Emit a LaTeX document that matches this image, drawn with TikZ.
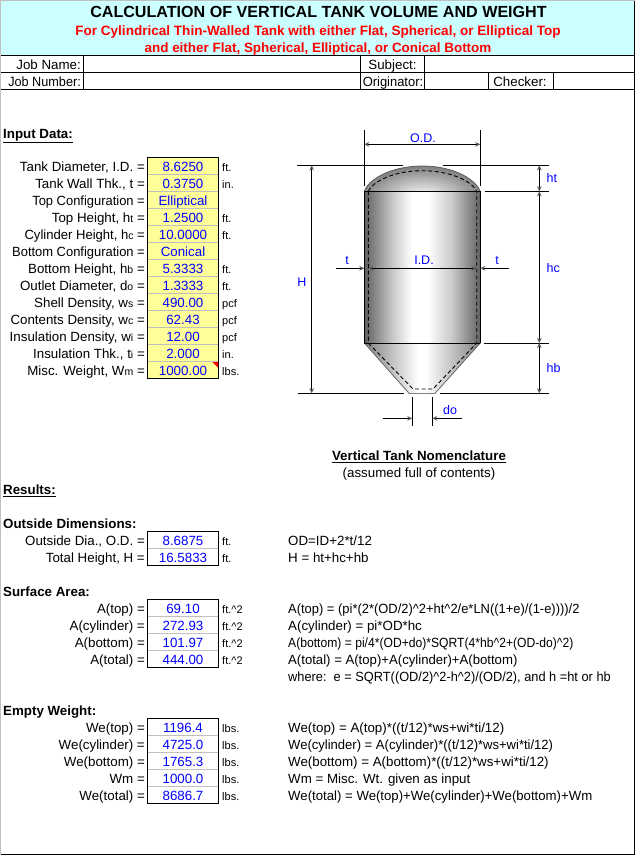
\documentclass[tikz,border=0pt]{standalone}
\usepackage{fontspec}
\usepackage{graphicx}
\setmainfont{Liberation Sans}
\usetikzlibrary{arrows.meta}
\definecolor{banner}{HTML}{CCFFFF}
\definecolor{inputfill}{HTML}{FFFF99}
\definecolor{valblue}{HTML}{0000FF}
\definecolor{gridgray}{HTML}{C0C0C0}
\definecolor{titlered}{HTML}{FF0000}
\definecolor{tipgray}{HTML}{555555}
\newcommand\fs[1]{\fontsize{#1}{#1}\selectfont}
\newcommand\sbs[1]{{\fs{10.5}#1}}
\newcommand\crt{\textasciicircum{}}
\newcommand\nar[2]{\scalebox{#1}[1]{#2}}
\tikzset{
  txt/.style={inner sep=0pt,text height=11.4pt,text depth=1pt,font=\fs{13.33}},
  lbl/.style={txt,anchor=east},
  val/.style={txt,anchor=center,text=valblue},
  unit/.style={txt,anchor=west,font=\fs{11}},
  frm/.style={txt,anchor=west},
  head/.style={txt,anchor=west,font=\fs{13.33}\bfseries},
  dimtxt/.style={txt,anchor=center,text=valblue,font=\fs{12.5}},
  hdr/.style={line width=0.9pt,black},
  dimline/.style={line width=0.8pt,black},
  dimarrow/.style={line width=0.8pt,black,{Stealth[length=5pt,width=4.5pt,color=tipgray,fill=tipgray]}-{Stealth[length=5pt,width=4.5pt,color=tipgray,fill=tipgray]}},
  dimto/.style={line width=0.8pt,black,-{Stealth[length=5pt,width=4.5pt,color=tipgray,fill=tipgray]}},
  hidden/.style={line width=0.9pt,black,dash pattern=on 4pt off 2.6pt},
}
\newcommand\resrow[5]{%
  \node[lbl] (#1l) at (145,#2) {#3};
  \node[val] (#1v) at (183,#2) {#4};
  \node[unit] (#1u) at (222,#2) {#5};}
\newcommand\frmrow[3]{\node[frm] (#1) at (288,#2) {#3};}
\begin{document}
\begin{tikzpicture}[x=1pt,y=-1pt]
\useasboundingbox (0,0) rectangle (635,855);
\fill[white] (0,0) rectangle (635,855);
% frame and banner
\fill[banner] (1,1) rectangle (634,55);
\fill[gridgray] (0,0) rectangle (1.3,855);
\fill[gridgray] (0,0) rectangle (635,1);
\draw[hdr] (634.4,1) -- (634.4,855);
\draw[hdr] (1,854.2) -- (635,854.2);
\node[txt,anchor=center,font=\fs{16.1}\bfseries] (title) at (318.5,12) {CALCULATION OF VERTICAL TANK VOLUME AND WEIGHT};
\node[txt,anchor=center,font=\fs{13.55}\bfseries,text=titlered] (sub1) at (318,30) {For Cylindrical Thin-Walled Tank with either Flat, Spherical, or Elliptical Top};
\node[txt,anchor=center,font=\fs{13.45}\bfseries,text=titlered] (sub2) at (318,47.5) {and either Flat, Spherical, Elliptical, or Conical Bottom};
% job table
\draw[hdr] (1,55) -- (635,55) (1,72) -- (635,72) (1,89) -- (635,89);
\draw[hdr] (83,55) -- (83,89) (360,55) -- (360,89) (424,55) -- (424,89);
\draw[hdr] (488,72) -- (488,89) (553,72) -- (553,89);
\node[lbl] (jobname) at (81,64) {Job Name:};
\node[lbl] (jobnum) at (81,81) {\nar{0.95}{Job Number:}};
\node[txt] (subject) at (392.5,64) {Subject:};
\node[txt] (orig) at (393,81) {\nar{0.97}{Originator:}};
\node[txt] (check) at (520,81) {Checker:};
% input data
\node[head] (inhead) at (3,133) {\underline{Input Data:}};
\fill[inputfill] (147,157.5) rectangle (218.5,378);
\foreach \yy in {174.5,191.5,208.5,225.5,242.5,259.5,276.5,293.5,310.5,327.5,344.5,361.5}
  \draw[gridgray,line width=0.8pt] (147,\yy) -- (218.5,\yy);
\draw[line width=0.9pt] (147,157.5) rectangle (218.5,378);
\fill[titlered] (212.5,362) -- (218,362) -- (218,367.5) -- cycle;
\resrow{a}{166.3}{Tank Diameter, I.D. =}{8.6250}{ft.}
\resrow{b}{183.3}{Tank Wall Thk., t =}{0.3750}{in.}
\resrow{c}{200.3}{\nar{0.97}{Top Configuration =}}{Elliptical}{}
\resrow{d}{217.3}{Top Height, h\sbs{t} =}{1.2500}{ft.}
\resrow{e}{234.3}{\nar{0.98}{Cylinder Height, h\sbs{c} =}}{10.0000}{ft.}
\resrow{f}{251.3}{\nar{0.97}{Bottom Configuration =}}{Conical}{}
\resrow{g}{268.3}{Bottom Height, h\sbs{b} =}{5.3333}{ft.}
\resrow{h}{285.3}{Outlet Diameter, d\sbs{o} =}{1.3333}{ft.}
\resrow{i}{302.3}{Shell Density, w\sbs{s} =}{490.00}{pcf}
\resrow{j}{319.3}{Contents Density, w\sbs{c} =}{62.43}{pcf}
\resrow{k}{336.3}{Insulation Density, w\sbs{i} =}{12.00}{pcf}
\resrow{m}{353.3}{Insulation Thk., t\sbs{i} =}{2.000}{in.}
\resrow{n}{370.3}{Misc. Weight, W\sbs{m} =}{1000.00}{lbs.}
% tank body
\coordinate (cl) at (364.3,191.3);
\coordinate (cr) at (480.3,191.3);
\coordinate (bl) at (364.3,343);
\coordinate (br) at (480.3,343);
\coordinate (ol) at (409,393.3);
\coordinate (or) at (435,393.3);
\begin{scope}
  \clip (cl) .. controls (368,180) and (390,166) .. (422.3,166) .. controls (455,166) and (476,180) .. (cr) -- cycle;
  \fill[black!50] (360,160) rectangle (485,192);
  \shade[inner color=white,outer color=black!50] (422.3,197) ellipse [x radius=62,y radius=31];
\end{scope}
\draw[line width=0.7pt,black!65] (cl) .. controls (368,180) and (390,166) .. (422.3,166) .. controls (455,166) and (476,180) .. (cr);
\shade[left color=black!62,right color=black!22] (364.3,191.3) rectangle (392,343);
\shade[left color=black!22,right color=white] (391.8,191.3) rectangle (412,343);
\fill[white] (411.9,191.3) rectangle (428,343);
\shade[left color=white,right color=black!22] (427.9,191.3) rectangle (453,343);
\shade[left color=black!22,right color=black!62] (452.8,191.3) rectangle (480.3,343);
\begin{scope}
  \clip (bl) -- (br) -- (or) -- (ol) -- cycle;
  \shade[left color=black!50,right color=white] (364.3,343) rectangle (418,394);
  \fill[white] (417.9,343) rectangle (426,394);
  \shade[left color=white,right color=black!50] (425.9,343) rectangle (480.3,394);
\end{scope}
\draw[line width=0.8pt,black!60] (bl) -- (ol) (br) -- (or);
\draw[line width=1.6pt,black!50] (ol) -- (or);
\draw[line width=1pt] (cl) -- (bl) (cr) -- (br);
\draw[dimline] (cl) -- (cr) (bl) -- (br);
\draw[hidden] (368.3,191.3) .. controls (373,181) and (395,170.7) .. (422.3,170.7) .. controls (450,170.7) and (472,181) .. (476.7,191.3);
\draw[hidden] (368.3,191.3) -- (368.3,343) -- (413,389) -- (433,389) -- (476.7,343) -- (476.7,191.3);
% dimensions
\coordinate (odl) at (364.3,130); \coordinate (odlb) at (364.3,186);
\coordinate (odr) at (480.3,130); \coordinate (odrb) at (480.3,186);
\draw[dimline] (odl) -- (odlb) (odr) -- (odrb);
\draw[dimarrow] (364.3,144.3) -- (480.3,144.3);
\node[dimtxt] (odt) at (423,137) {O.D.};
\draw[dimline] (297,165.3) -- (403,165.3) (443,165.3) -- (549,165.3);
\draw[dimline] (485,191.3) -- (549,191.3) (484,343) -- (549,343);
\draw[dimline] (298,393.3) -- (404,393.3) (440,393.3) -- (549,393.3);
\draw[dimarrow] (311.7,165.3) -- (311.7,393.3);
\node[dimtxt] (ht) at (302,281) {H};
\draw[dimarrow] (539.3,165.3) -- (539.3,191.3);
\draw[dimarrow] (539.3,191.3) -- (539.3,343);
\draw[dimarrow] (539.3,343) -- (539.3,393.3);
\node[dimtxt,anchor=west] (htt) at (546.5,177) {ht};
\node[dimtxt,anchor=west] (hct) at (546.5,267) {hc};
\node[dimtxt,anchor=west] (hbt) at (546.5,367) {hb};
\draw[dimto] (336,268.3) -- (364.3,268.3);
\draw[dimto] (509,268.3) -- (480.3,268.3);
\draw[dimarrow] (368.3,268.3) -- (476.7,268.3);
\node[dimtxt] (tl) at (347,259) {t};
\node[dimtxt] (tr) at (497,259) {t};
\node[dimtxt] (idt) at (424,259) {I.D.};
\draw[dimline] (412.3,397) -- (412.3,426) (432.3,397) -- (432.3,426);
\draw[dimto] (383,418.3) -- (412.3,418.3);
\draw[dimto] (462,418.3) -- (432.3,418.3);
\node[dimtxt] (dot) at (450,409) {do};
\node[txt,anchor=center,font=\fs{13.33}\bfseries] (nom) at (419,455.5) {\underline{Vertical Tank Nomenclature}};
\node[txt,anchor=center] (full) at (419,472.5) {(assumed full of contents)};
% results
\node[head] (reshead) at (3,489.5) {\underline{Results:}};
\node[head] (odh) at (3,523.3) {Outside Dimensions:};
\draw[gridgray,line width=0.8pt] (147,548.5) -- (218.5,548.5);
\draw[line width=0.9pt] (147,531.7) rectangle (218.5,565);
\resrow{oa}{540.3}{Outside Dia., O.D. =}{8.6875}{ft.}
\resrow{ob}{557.3}{Total Height, H =}{16.5833}{ft.}
\frmrow{fa}{540.3}{OD=ID+2*t/12}
\frmrow{fb}{557.3}{H = ht+hc+hb}
\node[head] (sah) at (3,591.7) {Surface Area:};
\foreach \yy in {616.5,633.5,650.5}
  \draw[gridgray,line width=0.8pt] (147,\yy) -- (218.5,\yy);
\draw[line width=0.9pt] (147,599.3) rectangle (218.5,667.3);
\resrow{sa}{608.3}{A(top) =}{69.10}{ft.\crt 2}
\resrow{sb}{625.3}{A(cylinder) =}{272.93}{ft.\crt 2}
\resrow{sc}{642.3}{A(bottom) =}{101.97}{ft.\crt 2}
\resrow{sd}{659.3}{A(total) =}{444.00}{ft.\crt 2}
\frmrow{fc}{608.3}{\nar{0.97}{A(top) = (pi*(2*(OD/2)\crt 2+ht\crt 2/e*LN((1+e)/(1-e))))/2}}
\frmrow{fd}{625.3}{A(cylinder) = pi*OD*hc}
\frmrow{fe}{642.3}{\nar{0.91}{A(bottom) = pi/4*(OD+do)*SQRT(4*hb\crt 2+(OD-do)\crt 2)}}
\frmrow{ff}{659.3}{\nar{0.987}{A(total) = A(top)+A(cylinder)+A(bottom)}}
\frmrow{fg}{676.3}{\nar{0.96}{where:\ \ e = SQRT((OD/2)\crt 2-h\crt 2)/(OD/2), and h =ht or hb}}
\node[head] (ewh) at (3,710.7) {Empty Weight:};
\foreach \yy in {735.5,752.5,769.5,786.5}
  \draw[gridgray,line width=0.8pt] (147,\yy) -- (218.5,\yy);
\draw[line width=0.9pt] (147,718.5) rectangle (218.5,803.7);
\resrow{wa}{727.7}{We(top) =}{1196.4}{lbs.}
\resrow{wb}{744.7}{We(cylinder) =}{4725.0}{lbs.}
\resrow{wc}{761.7}{We(bottom) =}{1765.3}{lbs.}
\resrow{wd}{778.7}{Wm =}{1000.0}{lbs.}
\resrow{we}{795.7}{We(total) =}{8686.7}{lbs.}
\frmrow{fh}{727.7}{We(top) = A(top)*((t/12)*ws+wi*ti/12)}
\frmrow{fi}{744.7}{\nar{0.978}{We(cylinder) = A(cylinder)*((t/12)*ws+wi*ti/12)}}
\frmrow{fj}{761.7}{We(bottom) = A(bottom)*((t/12)*ws+wi*ti/12)}
\frmrow{fk}{778.7}{Wm = Misc. Wt. given as input}
\frmrow{fl}{795.7}{\nar{0.99}{We(total) = We(top)+We(cylinder)+We(bottom)+Wm}}
\end{tikzpicture}
\end{document}
